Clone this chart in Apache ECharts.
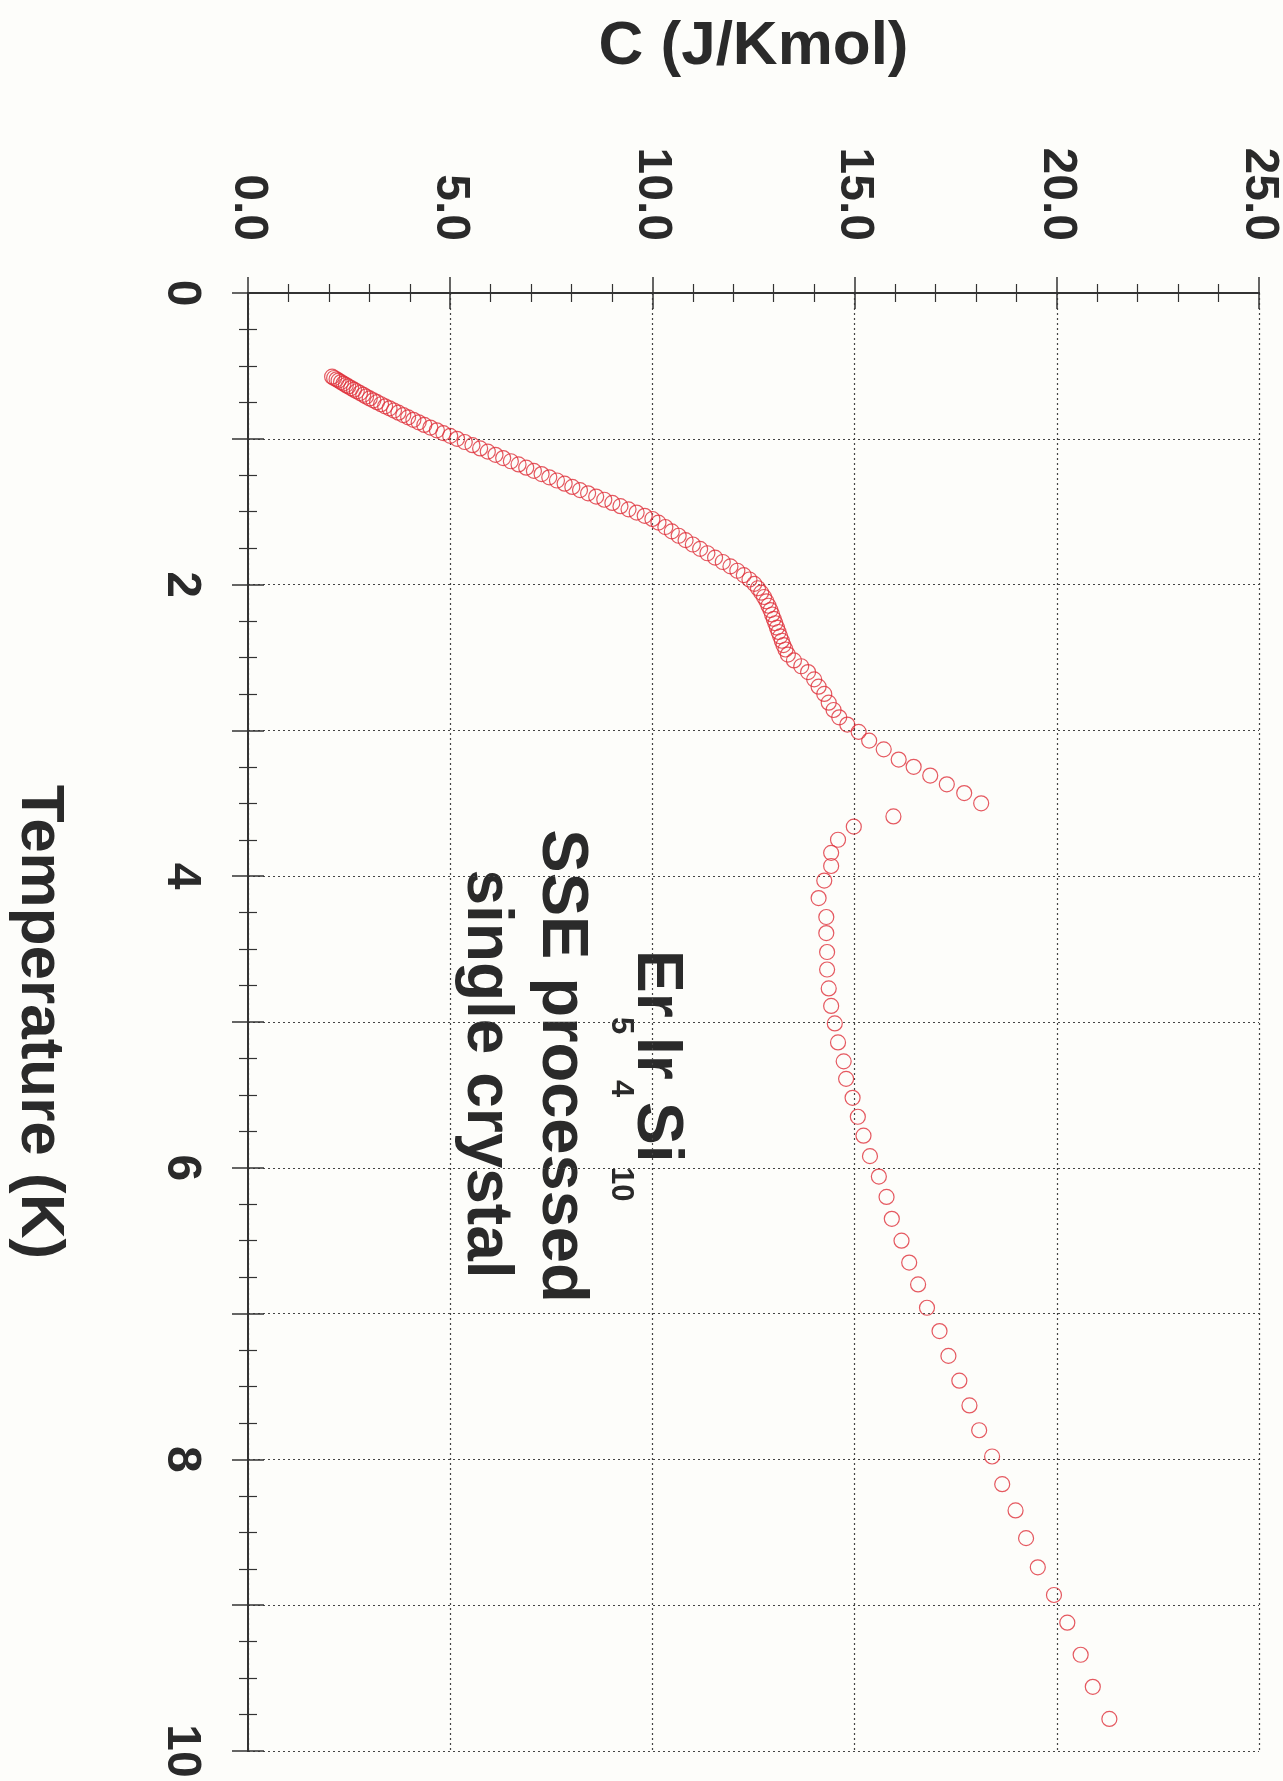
<!DOCTYPE html>
<html>
<head>
<meta charset="utf-8">
<script src="https://cdn.jsdelivr.net/npm/echarts@6/dist/echarts.min.js"></script>
<style>
html,body{margin:0;padding:0;background:#fdfdfa;}
#chart{width:1283px;height:1781px;}
</style>
</head>
<body>
<div id="chart"></div>
<script>
// ---- data (T in K, C in J/Kmol) ----
const lowT  = [0.574,0.583,0.592,0.601,0.611,0.621,0.631,0.641,0.652,0.663,0.674,0.686,0.698,0.710,0.723,0.736,0.749,0.763,0.777,0.791,0.806,0.821,0.837,0.853,0.870,0.887,0.905,0.923,0.942,0.961,0.980];
const lowC  = [2.08,2.13,2.19,2.24,2.30,2.36,2.42,2.48,2.55,2.62,2.69,2.77,2.85,2.92,3.01,3.10,3.19,3.29,3.39,3.50,3.61,3.72,3.84,3.96,4.09,4.22,4.36,4.51,4.67,4.83,5.00];
const midT  = [1.000,1.022,1.044,1.066,1.088,1.110,1.132,1.154,1.176,1.198,1.220,1.242,1.264,1.286,1.308,1.330,1.352,1.374,1.396,1.418,1.440,1.462,1.484,1.506,1.528,1.550];
const midC  = [5.17,5.36,5.55,5.74,5.93,6.12,6.31,6.50,6.69,6.88,7.07,7.26,7.45,7.64,7.83,8.02,8.21,8.41,8.61,8.81,9.01,9.21,9.41,9.61,9.81,10.00];
const shoulderT = [1.575,1.605,1.635,1.665,1.695,1.725,1.755,1.785,1.815,1.845,1.875,1.905,1.935,1.965,1.995,2.025,2.055,2.085,2.115,2.145,2.175,2.205,2.235,2.265,2.295,2.325,2.355,2.385,2.415,2.445];
const shoulderC = [10.15,10.32,10.48,10.65,10.82,11.00,11.18,11.36,11.55,11.74,11.93,12.10,12.26,12.40,12.52,12.61,12.69,12.76,12.82,12.87,12.92,12.96,13.00,13.04,13.08,13.12,13.16,13.20,13.24,13.29];
const riseT = [2.48,2.52,2.56,2.60,2.65,2.70,2.75,2.81,2.86,2.91,2.96,3.01,3.07,3.13,3.20,3.25,3.31,3.37,3.43,3.50];
const riseC = [13.35,13.50,13.68,13.85,14.00,14.11,14.25,14.36,14.48,14.62,14.82,15.10,15.36,15.72,16.09,16.46,16.87,17.28,17.71,18.13];
const strayT = [3.59];
const strayC = [15.96];
const highT = [3.66,3.75,3.84,3.93,4.03,4.15,4.28,4.39,4.52,4.64,4.77,4.89,5.01,5.14,5.27,5.39,5.52,5.65,5.78,5.92,6.06,6.20,6.35,6.50,6.65,6.80,6.96,7.12,7.29,7.46,7.63,7.80,7.98,8.17,8.35,8.54,8.74,8.93,9.12,9.34,9.56,9.78];
const highC = [14.98,14.59,14.42,14.42,14.25,14.11,14.30,14.30,14.32,14.32,14.36,14.42,14.51,14.59,14.73,14.79,14.95,15.08,15.22,15.38,15.60,15.79,15.92,16.16,16.35,16.57,16.79,17.10,17.32,17.59,17.84,18.08,18.40,18.65,18.98,19.24,19.53,19.93,20.26,20.59,20.89,21.30];

const cTicks = [0,5,10,15,20,25];
const tTicks = [0,2,4,6,8,10];

const xTitle = 'C (J/Kmol)';
const yTitle = 'Temperature (K)';

// ---- build ----
const branches = [[lowT,lowC],[midT,midC],[shoulderT,shoulderC],[riseT,riseC],[strayT,strayC],[highT,highC]];
const points = [];
branches.forEach(([ts,cs]) => ts.forEach((t,i) => points.push([cs[i], t])));

const FONT = '"Liberation Sans", Arial, Helvetica, sans-serif';
const INK = '#2a2a2a';
const RED = '#de2f3a';

const chart = echarts.init(document.getElementById('chart'), null, {renderer:'canvas'});

const axisLineStyle = {show:true, lineStyle:{color:'#333', width:2}};
const tickStyle = {show:true, inside:true, length:16, lineStyle:{color:'#333', width:1.5}};
const minorTickStyle = (n) => ({show:true, splitNumber:n, length:9, lineStyle:{color:'#333', width:1.2}});
const gridLine = {show:true, lineStyle:{color:'#444', type:[2,3], width:1.2}};

chart.setOption({
  backgroundColor:'#fdfdfa',
  animation:false,
  grid:{left:247, top:293, right:23, bottom:30, containLabel:false},
  xAxis:[{
    type:'value', position:'top', min:0, max:25, interval:5,
    name:xTitle, nameLocation:'middle', nameGap:215,
    nameTextStyle:{fontFamily:FONT, fontWeight:'bold', fontSize:62, color:INK},
    axisLine:axisLineStyle, axisTick:tickStyle, minorTick:minorTickStyle(5),
    splitLine:gridLine,
    axisLabel:{show:true, rotate:-90, margin:52, fontFamily:FONT, fontWeight:'bold', fontSize:48, color:INK,
      formatter:(v)=> cTicks.indexOf(v) >= 0 ? v.toFixed(1) : ''}
  },{
    type:'value', position:'bottom', min:0, max:25, interval:5,
    axisLine:axisLineStyle, axisTick:tickStyle, minorTick:minorTickStyle(5),
    splitLine:{show:false}, axisLabel:{show:false}
  }],
  yAxis:[{
    type:'value', position:'left', inverse:true, min:0, max:10, interval:1,
    name:yTitle, nameLocation:'middle', nameGap:178, nameRotate:-90,
    nameTextStyle:{fontFamily:FONT, fontWeight:'bold', fontSize:62, color:INK},
    axisLine:axisLineStyle, axisTick:tickStyle, minorTick:minorTickStyle(4),
    splitLine:gridLine,
    axisLabel:{show:true, rotate:-90, margin:43, fontFamily:FONT, fontWeight:'bold', fontSize:48, color:INK,
      formatter:(v)=> tTicks.indexOf(v) >= 0 ? String(v) : ''}
  },{
    type:'value', position:'right', inverse:true, min:0, max:10, interval:1,
    axisLine:axisLineStyle, axisTick:tickStyle, minorTick:minorTickStyle(4),
    splitLine:{show:false}, axisLabel:{show:false}
  }],
  series:[{
    type:'scatter', xAxisIndex:0, yAxisIndex:0,
    data:points, symbol:'circle', symbolSize:15,
    itemStyle:{color:'rgba(0,0,0,0)', borderColor:RED, borderWidth:1.2},
    emphasis:{disabled:true}
  }],
  graphic:[
    {
      type:'group', x:633, y:950, rotation:-Math.PI/2,
      children:[
        {type:'text', x:0,   y:-23, style:{text:'Er', font:'bold 64px ' + FONT, fill:INK, verticalAlign:'middle', align:'left'}},
        {type:'text', x:67,  y:12,  style:{text:'5',  font:'bold 31px ' + FONT, fill:INK, verticalAlign:'middle', align:'left'}},
        {type:'text', x:87,  y:-23, style:{text:'Ir', font:'bold 64px ' + FONT, fill:INK, verticalAlign:'middle', align:'left'}},
        {type:'text', x:130, y:12,  style:{text:'4',  font:'bold 31px ' + FONT, fill:INK, verticalAlign:'middle', align:'left'}},
        {type:'text', x:152, y:-23, style:{text:'Si', font:'bold 64px ' + FONT, fill:INK, verticalAlign:'middle', align:'left'}},
        {type:'text', x:217, y:12,  style:{text:'10', font:'bold 31px ' + FONT, fill:INK, verticalAlign:'middle', align:'left'}}
      ]
    },
    {type:'text', x:561, y:1066, rotation:-Math.PI/2,
     style:{text:'SSE processed', font:'bold 65px ' + FONT, fill:INK, align:'center', verticalAlign:'middle'}},
    {type:'text', x:486, y:1074, rotation:-Math.PI/2,
     style:{text:'single crystal', font:'bold 64px ' + FONT, fill:INK, align:'center', verticalAlign:'middle'}}
  ]
});
</script>
</body>
</html>
